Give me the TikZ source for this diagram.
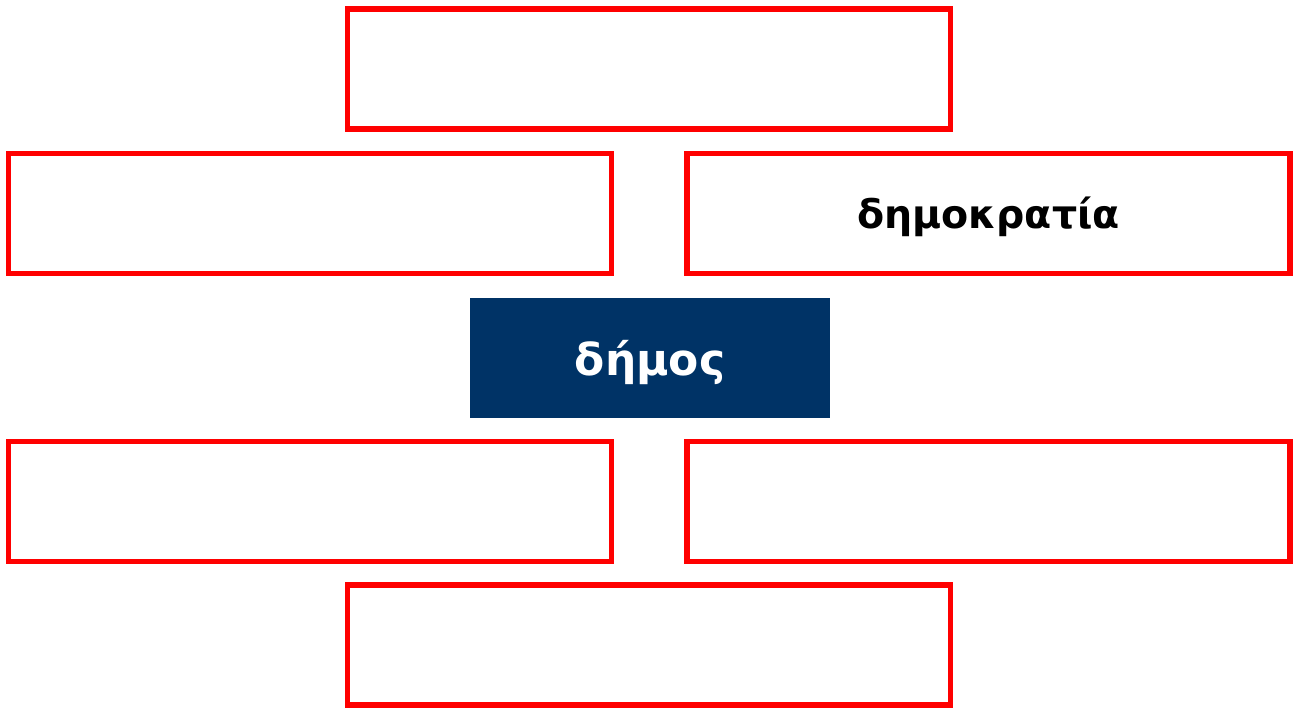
\documentclass[tikz,border=0pt]{standalone}
\usepackage{fontspec}
\setmainfont{DejaVu Sans}
\definecolor{boxred}{RGB}{255,0,0}
\definecolor{navy}{RGB}{0,51,102}
\tikzset{
  wordbox/.style={draw=boxred, line width=5.5pt, fill=white, minimum width=603pt, minimum height=120pt, inner sep=0pt},
  rootbox/.style={fill=navy, text=white, minimum width=360pt, minimum height=120pt, inner sep=0pt, font=\fontsize{44}{52}\selectfont\bfseries}
}
\begin{document}
\begin{tikzpicture}[x=1pt,y=-1pt]
\useasboundingbox (0,0) rectangle (1293,707);
%top and bottom
\node[wordbox] (top) at (649,69) {};
\node[wordbox] (bottom) at (649,645) {};
%second row
\node[wordbox] (upleft) at (310,213.5) {};
\node[wordbox] (upright) at (988.5,213.5) {};
\node[font=\fontsize{39.5}{46}\selectfont\bfseries] (word) at ([yshift=-3pt]upright.center) {δημοκρατία};
%the root word
\node[rootbox] (root) at (650,358) {};
\node[text=white, font=\fontsize{44}{52}\selectfont\bfseries] (rootword) at ([yshift=-4pt]root.center) {δήμος};
%fourth row
\node[wordbox] (lowleft) at (310,501.5) {};
\node[wordbox] (lowright) at (988.5,501.5) {};
\end{tikzpicture}
\end{document}
